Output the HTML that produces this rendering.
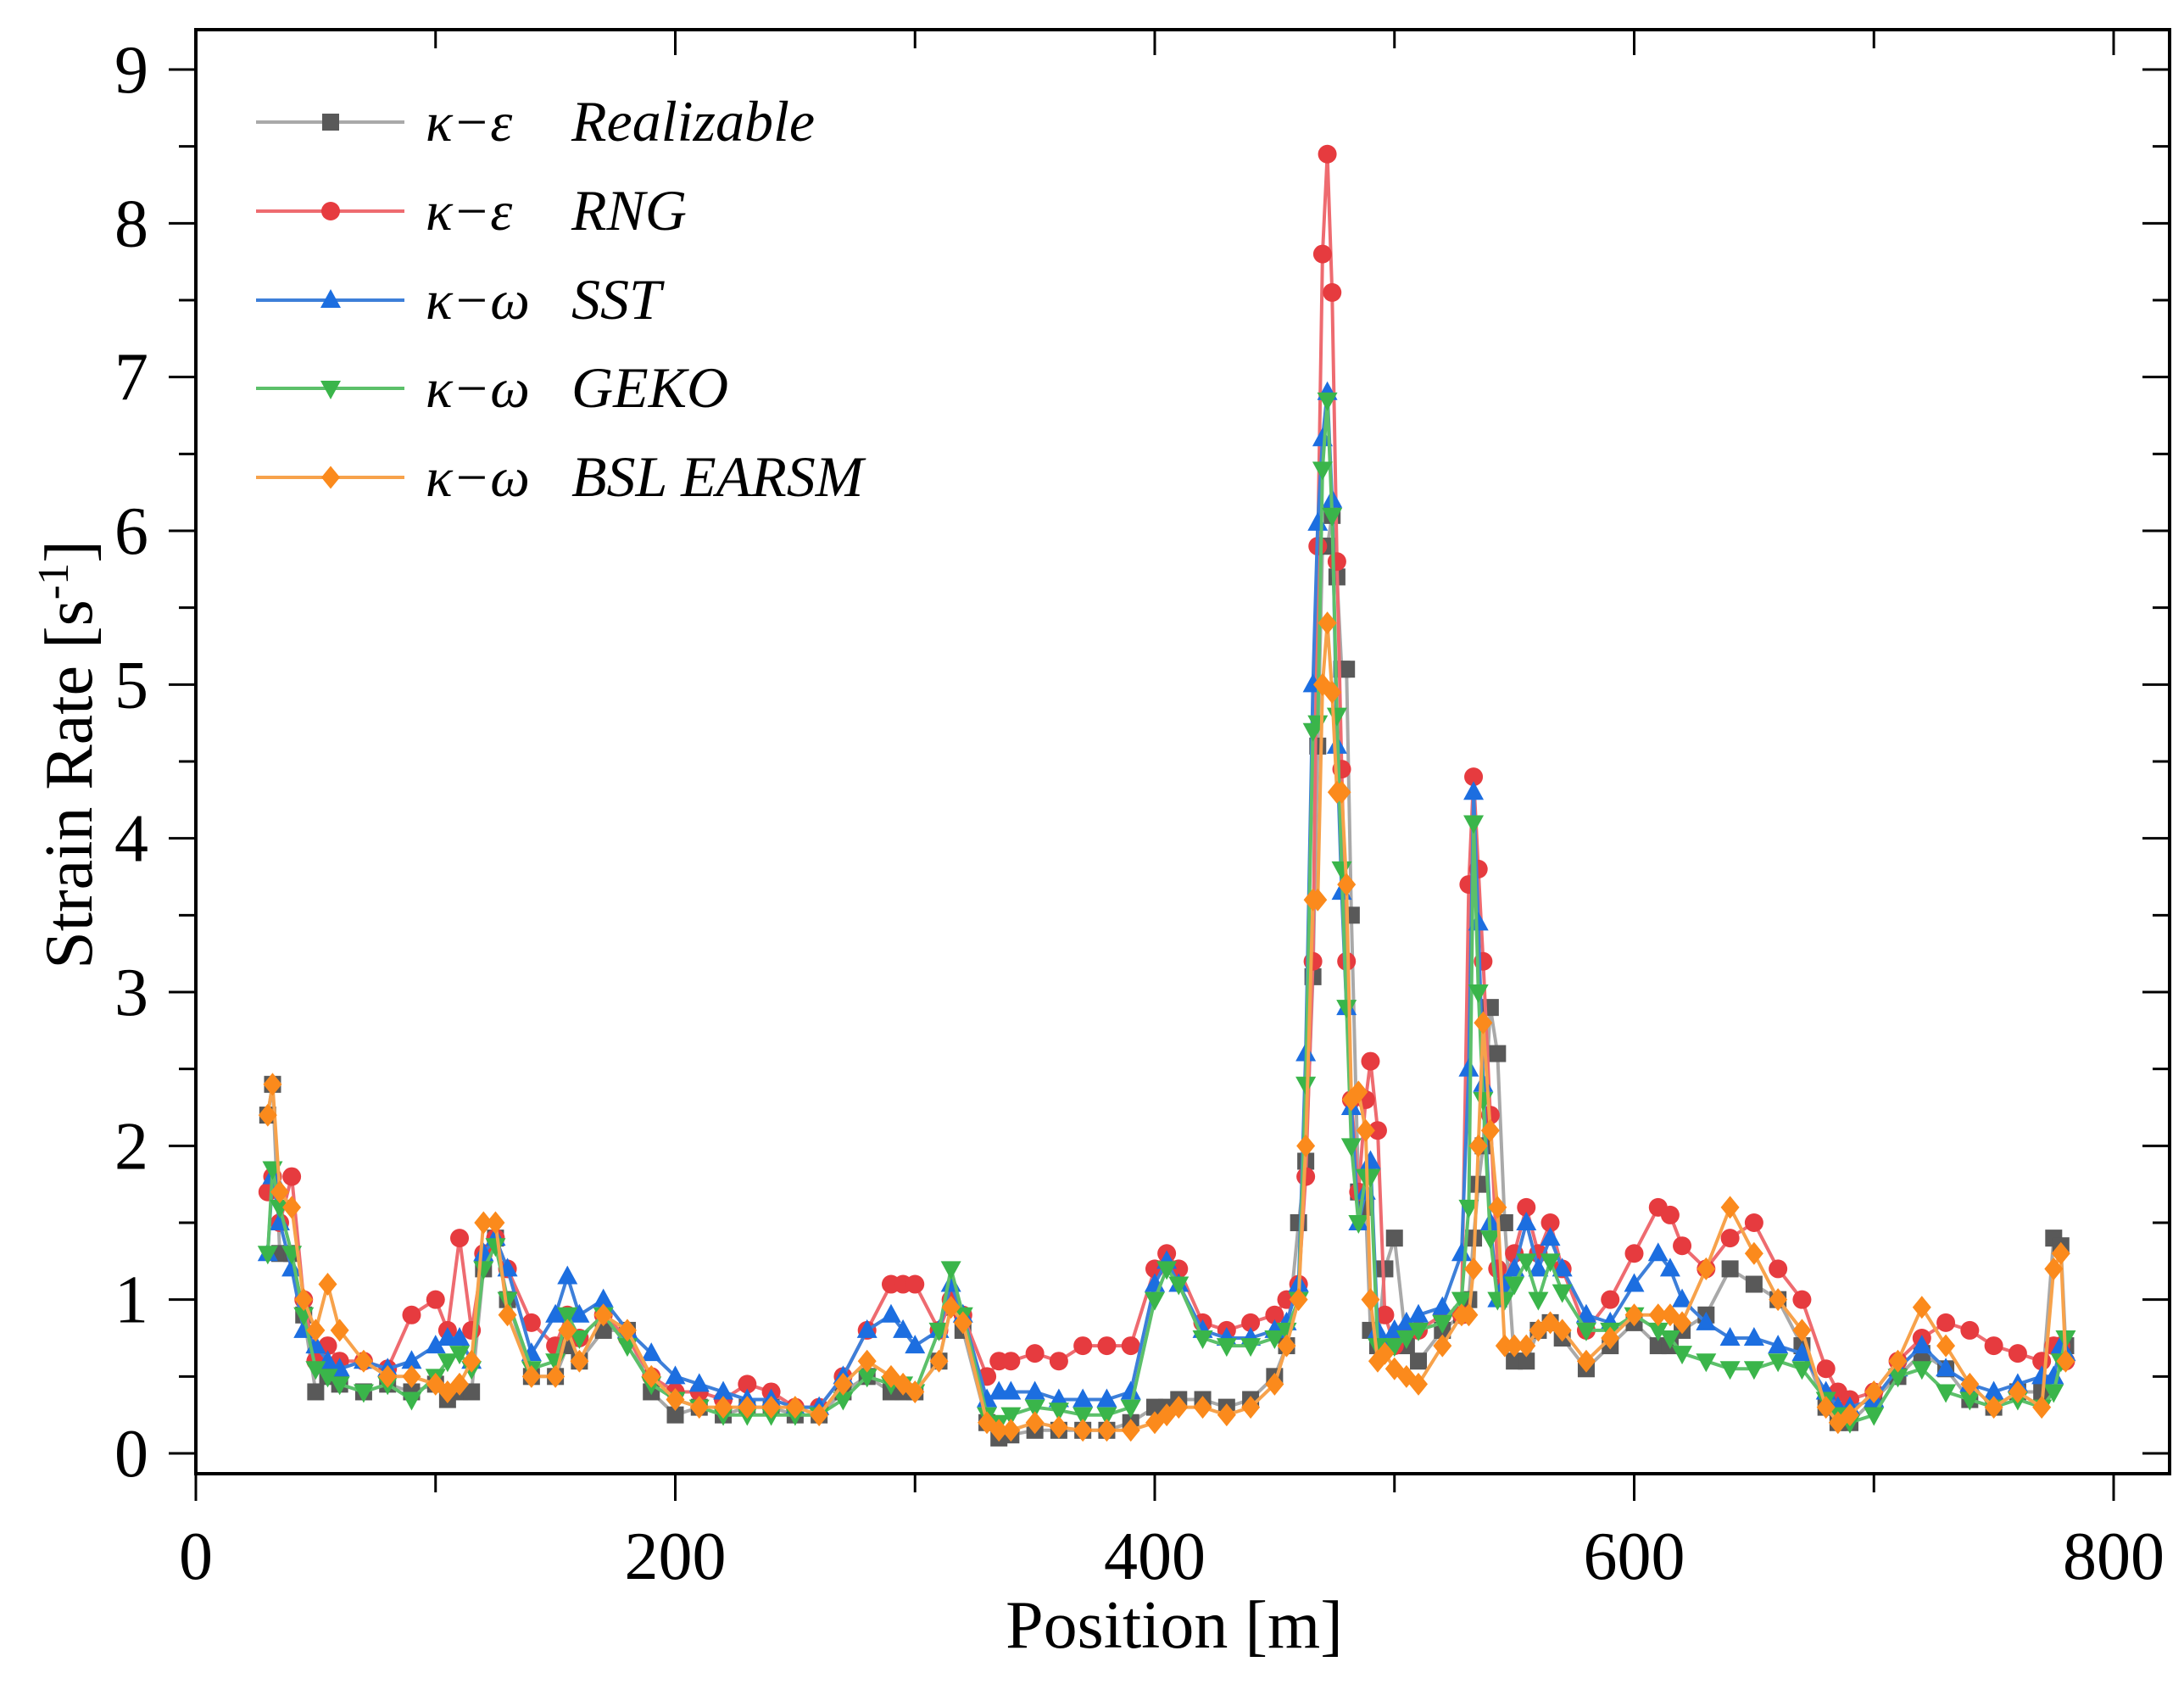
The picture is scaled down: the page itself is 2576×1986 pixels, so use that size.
<!DOCTYPE html>
<html><head><meta charset="utf-8"><style>
html,body{margin:0;padding:0;background:#fff;}
svg{display:block;}
text{font-family:"Liberation Serif",serif;fill:#000;}
</style></head><body>
<svg id="chart" width="2576" height="1986" viewBox="0 0 2576 1986" xmlns="http://www.w3.org/2000/svg">
<rect x="0" y="0" width="2576" height="1986" fill="#fff"/>
<g id="series"></g>
<g id="axes"></g>
<g id="legend"></g>
</svg>
<script>
const positions = [30,32,35,40,45,50,55,60,70,80,90,100,105,110,115,120,125,130,140,150,155,160,170,180,190,200,210,220,230,240,250,260,270,280,290,295,300,310,315,320,330,335,340,350,360,370,380,390,400,405,410,420,430,440,450,455,460,463,466,468,470,472,474,476,478,480,482,485,488,490,493,496,500,505,510,520,528,531,533,535,537,540,543,546,550,555,560,565,570,580,590,600,610,615,620,630,640,650,660,670,680,685,690,700,710,720,730,740,750,760,770,775,778,780];
const realizable = [2.2,2.4,1.3,1.3,0.9,0.4,0.5,0.45,0.4,0.45,0.4,0.45,0.35,0.4,0.4,1.2,1.4,1.0,0.5,0.5,0.7,0.6,0.8,0.8,0.4,0.25,0.3,0.25,0.3,0.3,0.25,0.25,0.4,0.5,0.4,0.4,0.4,0.6,0.95,0.8,0.2,0.1,0.12,0.15,0.15,0.15,0.15,0.2,0.3,0.3,0.35,0.35,0.3,0.35,0.5,0.7,1.5,1.9,3.1,4.6,5.9,5.9,6.1,5.7,5.1,5.1,3.5,1.7,1.6,0.8,0.7,1.2,1.4,0.7,0.6,0.8,0.9,1.0,1.4,1.75,2.0,2.9,2.6,1.5,0.6,0.6,0.8,0.85,0.75,0.55,0.7,0.85,0.7,0.7,0.8,0.9,1.2,1.1,1.0,0.7,0.3,0.2,0.2,0.35,0.5,0.65,0.55,0.35,0.3,0.4,0.4,1.4,1.35,0.7];
const rng = [1.7,1.8,1.5,1.8,1.0,0.6,0.7,0.6,0.6,0.55,0.9,1.0,0.8,1.4,0.8,1.3,1.4,1.2,0.85,0.7,0.9,0.75,0.9,0.75,0.5,0.4,0.4,0.35,0.45,0.4,0.3,0.3,0.5,0.8,1.1,1.1,1.1,0.8,1.0,0.9,0.5,0.6,0.6,0.65,0.6,0.7,0.7,0.7,1.2,1.3,1.2,0.85,0.8,0.85,0.9,1.0,1.1,1.8,3.2,5.9,7.8,8.45,7.55,5.8,4.45,3.2,2.3,1.7,2.3,2.55,2.1,0.9,0.7,0.8,0.8,0.9,0.9,3.7,4.4,3.8,3.2,2.2,1.2,1.1,1.3,1.6,1.3,1.5,1.2,0.8,1.0,1.3,1.6,1.55,1.35,1.2,1.4,1.5,1.2,1.0,0.55,0.4,0.35,0.4,0.6,0.75,0.85,0.8,0.7,0.65,0.6,0.7,0.7,0.6];
const sst = [1.3,1.8,1.5,1.2,0.8,0.7,0.6,0.55,0.6,0.55,0.6,0.7,0.75,0.75,0.6,1.3,1.4,1.2,0.65,0.9,1.15,0.9,1.0,0.8,0.65,0.5,0.45,0.4,0.35,0.35,0.3,0.3,0.5,0.8,0.9,0.8,0.7,0.8,1.1,0.9,0.35,0.4,0.4,0.4,0.35,0.35,0.35,0.4,1.1,1.25,1.1,0.8,0.75,0.75,0.8,0.85,1.1,2.6,5.0,6.05,6.6,6.9,6.2,4.6,3.65,2.9,2.25,1.5,1.7,1.9,0.8,0.7,0.8,0.85,0.9,0.95,1.3,2.5,4.3,3.45,2.4,1.5,1.0,1.1,1.2,1.5,1.2,1.4,1.2,0.9,0.85,1.1,1.3,1.2,1.0,0.85,0.75,0.75,0.7,0.65,0.4,0.3,0.3,0.35,0.55,0.7,0.55,0.45,0.4,0.45,0.5,0.5,0.7,0.65];
const geko = [1.3,1.85,1.6,1.3,0.9,0.55,0.5,0.45,0.4,0.45,0.35,0.5,0.6,0.65,0.55,1.2,1.35,1.0,0.55,0.6,0.9,0.75,0.9,0.7,0.45,0.35,0.3,0.25,0.25,0.25,0.25,0.25,0.35,0.5,0.45,0.45,0.4,0.8,1.2,0.9,0.25,0.2,0.25,0.3,0.28,0.25,0.25,0.3,1.0,1.2,1.1,0.75,0.7,0.7,0.75,0.8,1.0,2.4,4.7,4.75,6.4,6.85,6.1,4.8,3.8,2.9,2.0,1.5,1.8,1.8,0.7,0.65,0.7,0.75,0.8,0.85,1.0,1.6,4.1,3.0,2.3,1.4,1.0,1.0,1.1,1.25,1.0,1.25,1.05,0.8,0.8,0.9,0.8,0.75,0.65,0.6,0.55,0.55,0.6,0.55,0.35,0.25,0.2,0.25,0.5,0.55,0.4,0.35,0.3,0.35,0.3,0.4,0.6,0.75];
const bsl = [2.2,2.4,1.7,1.6,1.0,0.8,1.1,0.8,0.6,0.5,0.5,0.45,0.4,0.45,0.6,1.5,1.5,0.9,0.5,0.5,0.8,0.6,0.9,0.8,0.5,0.35,0.3,0.3,0.3,0.3,0.3,0.25,0.45,0.6,0.5,0.45,0.4,0.6,0.95,0.85,0.2,0.15,0.15,0.2,0.17,0.15,0.15,0.15,0.2,0.25,0.3,0.3,0.25,0.3,0.45,0.7,1.0,2.0,3.6,3.6,5.0,5.4,4.95,4.3,4.3,3.7,2.3,2.35,2.1,1.0,0.6,0.65,0.55,0.5,0.45,0.7,0.9,0.9,1.2,2.0,2.8,2.1,1.6,0.7,0.7,0.7,0.8,0.85,0.8,0.6,0.75,0.9,0.9,0.9,0.85,1.2,1.6,1.3,1.0,0.8,0.3,0.2,0.25,0.4,0.6,0.95,0.7,0.45,0.3,0.4,0.3,1.2,1.3,0.6];
const seriesNames = ["\u03ba\u2212\u03b5","\u03ba\u2212\u03b5","\u03ba\u2212\u03c9","\u03ba\u2212\u03c9","\u03ba\u2212\u03c9"];
const seriesModels = ["Realizable","RNG","SST","GEKO","BSL EARSM"];
const xTicks = [0,200,400,600,800];
const xMinor = [100,300,500,700];
const yTicks = [0,1,2,3,4,5,6,7,8,9];
const yMinor = [0.5,1.5,2.5,3.5,4.5,5.5,6.5,7.5,8.5];

const NS="http://www.w3.org/2000/svg";
const X0=231, X1=2493, Y0=1714, Y9=82;
function sx(v){return X0+(X1-X0)*v/800;}
function sy(v){return Y0+(Y9-Y0)*v/9;}
function mk(tag,attrs,parent){const e=document.createElementNS(NS,tag);for(const k in attrs)e.setAttribute(k,attrs[k]);parent.appendChild(e);return e;}

const styles=[
 {line:"#a9a9a9",fill:"#595959",shape:"square",key:"realizable"},
 {line:"#ee6b70",fill:"#e63b3f",shape:"circle",key:"rng"},
 {line:"#3d7fd9",fill:"#1c6ee0",shape:"up",key:"sst"},
 {line:"#5cc06a",fill:"#3ab54a",shape:"down",key:"geko"},
 {line:"#f7a24b",fill:"#fb8a1c",shape:"diamond",key:"bsl"}];
const allData=[realizable,rng,sst,geko,bsl];

function marker(shape,cx,cy,s,fill,parent){
 let e;
 if(shape==="square"){e=mk("rect",{x:cx-s,y:cy-s,width:2*s,height:2*s,fill:fill},parent);}
 else if(shape==="circle"){e=mk("circle",{cx:cx,cy:cy,r:s*1.1,fill:fill},parent);}
 else if(shape==="up"){e=mk("polygon",{points:`${cx},${cy-s*1.3} ${cx+s*1.2},${cy+s*0.9} ${cx-s*1.2},${cy+s*0.9}`,fill:fill},parent);}
 else if(shape==="down"){e=mk("polygon",{points:`${cx},${cy+s*1.3} ${cx+s*1.2},${cy-s*0.9} ${cx-s*1.2},${cy-s*0.9}`,fill:fill},parent);}
 else {e=mk("polygon",{points:`${cx},${cy-s*1.35} ${cx+s*1.1},${cy} ${cx},${cy+s*1.35} ${cx-s*1.1},${cy}`,fill:fill},parent);}
 return e;
}

const sg=document.getElementById("series");
allData.forEach((data,i)=>{
 const st=styles[i];
 const g=mk("g",{},sg);
 
 
 const pts=data.map((v,j)=>sx(positions[j]).toFixed(1)+","+sy(v).toFixed(1)).join(" ");
 const pl=mk("polyline",{points:pts,fill:"none",stroke:st.line,"stroke-width":4,"stroke-linejoin":"round"},g);
 
 
 data.forEach((v,j)=>{
  const m=marker(st.shape,sx(positions[j]),sy(v),10,st.fill,g);
  
  
 });
});

const ax=document.getElementById("axes");
const frame=mk("rect",{x:X0,y:35,width:2559-X0,height:1738-35,fill:"none",stroke:"#000","stroke-width":4},ax);


xTicks.forEach(v=>{
 const x=sx(v);
 mk("line",{x1:x,y1:1738,x2:x,y2:1770,stroke:"#000","stroke-width":3},ax);
 mk("line",{x1:x,y1:35,x2:x,y2:65,stroke:"#000","stroke-width":3},ax);
 const t=mk("text",{x:x,y:1862,"font-size":80,"text-anchor":"middle"},ax);
 t.textContent=v;
 
 
});
xMinor.forEach(v=>{
 const x=sx(v);
 mk("line",{x1:x,y1:1738,x2:x,y2:1760,stroke:"#000","stroke-width":3},ax);
 mk("line",{x1:x,y1:35,x2:x,y2:57,stroke:"#000","stroke-width":3},ax);
});
yTicks.forEach(v=>{
 const y=sy(v);
 mk("line",{x1:X0,y1:y,x2:X0-32,y2:y,stroke:"#000","stroke-width":3},ax);
 mk("line",{x1:2559,y1:y,x2:2527,y2:y,stroke:"#000","stroke-width":3},ax);
 const t=mk("text",{x:175,y:y+27,"font-size":80,"text-anchor":"end"},ax);
 t.textContent=v;
 
 
});
yMinor.forEach(v=>{
 const y=sy(v);
 mk("line",{x1:X0,y1:y,x2:X0-20,y2:y,stroke:"#000","stroke-width":3},ax);
 mk("line",{x1:2559,y1:y,x2:2539,y2:y,stroke:"#000","stroke-width":3},ax);
});
const xt=mk("text",{x:1385,y:1943,"font-size":80,"text-anchor":"middle"},ax);
xt.textContent="Position [m]";


const yt=mk("text",{x:0,y:0,"font-size":80,"text-anchor":"middle",transform:"translate(108,890) rotate(-90)"},ax);
yt.innerHTML='Strain Rate [s<tspan dy="-28" font-size="52">-1</tspan><tspan dy="28">]</tspan>';



const lg=document.getElementById("legend");
const rowY=[144,249,354,458,563];
styles.forEach((st,i)=>{
 const g=mk("g",{},lg);
 
 
 mk("line",{x1:302,y1:rowY[i],x2:477,y2:rowY[i],stroke:st.line,"stroke-width":4},g);
 marker(st.shape,390,rowY[i],10,st.fill,g);
 const t1=mk("text",{x:502,y:rowY[i]+22,"font-size":66,"font-style":"italic"},g);
 t1.textContent=seriesNames[i];
 const t2=mk("text",{x:674,y:rowY[i]+22,"font-size":68,"font-style":"italic"},g);
 t2.textContent=seriesModels[i];
});
</script>
</body></html>
